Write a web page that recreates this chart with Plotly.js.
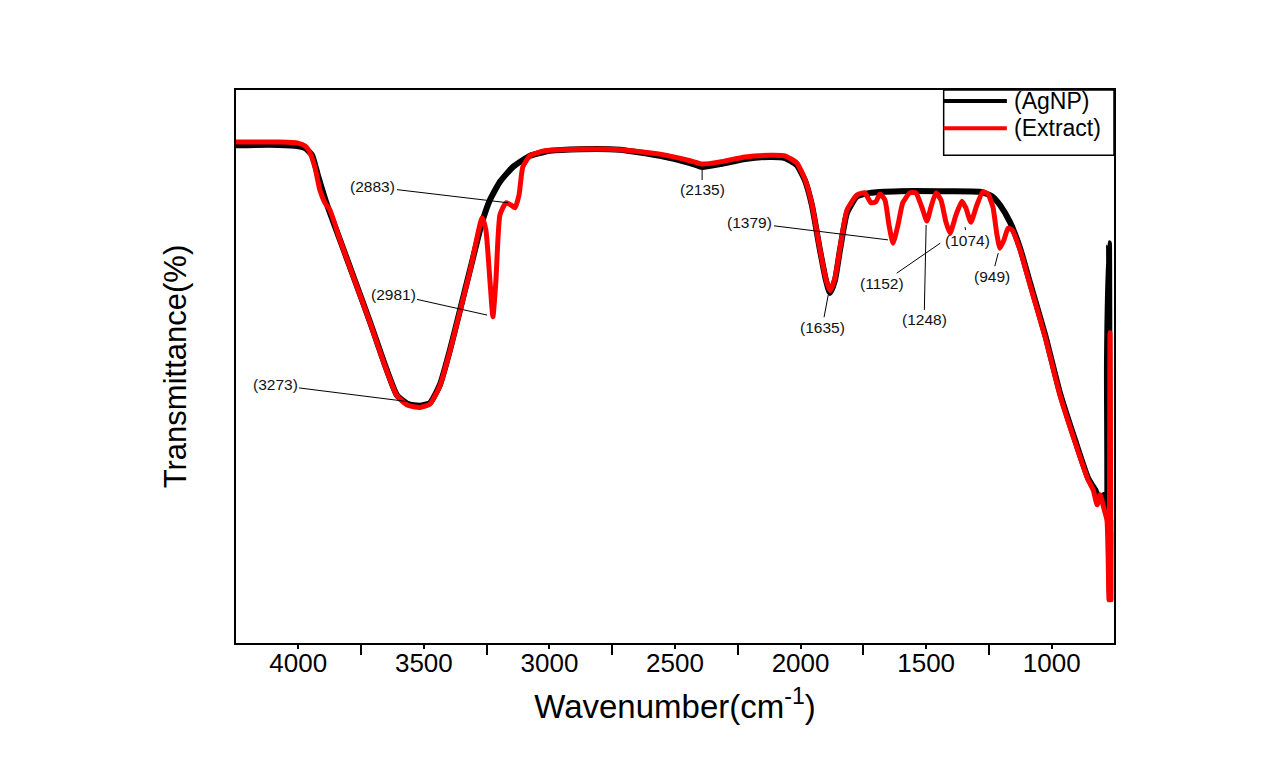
<!DOCTYPE html>
<html>
<head>
<meta charset="utf-8">
<script src="https://cdn.plot.ly/plotly-3.0.1.min.js"></script>
<style>html,body{margin:0;padding:0;background:#fff;}#chart{width:1283px;height:760px;}</style>
</head>
<body>
<div id="chart"></div>
<script>
// AgNP spectrum (wavenumber, transmittance in arbitrary % units)
const agnpX = [4248,4113,4013,3973,3945,3922,3898,3882,3834,3775,3714,3655,3607,3564,3516,3476,3436,3396,3356,3316,3268,3237,3197,3145,3077,2998,2878,2719,2560,2440,2392,2321,2221,2122,2062,2015,1983,1955,1923,1899,1883,1863,1843,1815,1776,1724,1604,1445,1286,1238,1206,1166,1126,1086,1026,967,907,855,827,807,791,780,780,772,769,767];
const agnpY = [90.0,90.1,89.9,89.5,88.2,84.6,81.0,78.8,72.9,65.6,58.0,50.3,44.8,43.2,42.9,43.4,46.7,53.0,60.2,67.5,76.1,80.1,83.4,86.1,88.1,89.0,89.3,89.2,88.1,86.8,86.1,86.6,87.5,87.9,87.7,86.4,83.7,79.2,71.1,65.6,63.3,65.6,71.1,77.8,80.7,81.4,81.7,81.7,81.6,80.8,79.2,76.1,71.4,65.1,55.7,45.2,36.7,29.8,27.7,25.9,26.8,23.1,50.6,72.3,9.0,20.0];

// Extract spectrum
const extX = [4248,4073,4001,3973,3953,3933,3914,3894,3874,3834,3775,3714,3655,3607,3564,3516,3476,3436,3396,3356,3316,3268,3253,3237,3225,3213,3197,3173,3153,3137,3121,3106,3077,3018,2878,2719,2560,2440,2392,2321,2221,2122,2062,2015,1983,1955,1923,1899,1883,1863,1843,1815,1776,1744,1720,1700,1684,1664,1648,1632,1612,1593,1565,1541,1517,1497,1481,1461,1441,1421,1405,1381,1358,1342,1322,1298,1274,1254,1234,1218,1206,1190,1174,1158,1126,1086,1026,967,907,855,835,819,807,791,780,772,768,764,764];
const extY = [90.6,90.6,90.4,89.9,88.6,85.9,81.9,79.6,78.3,72.9,65.5,57.9,50.1,44.7,43.0,42.6,43.2,46.5,52.8,60.0,67.3,76.9,74.7,65.6,59.0,65.6,77.4,79.6,79.2,78.7,81.0,86.1,88.1,89.0,89.3,89.2,88.4,87.2,86.6,87.0,87.9,88.2,88.1,86.8,83.9,79.4,71.2,65.8,63.7,66.0,71.4,78.3,81.0,81.4,79.6,79.8,81.2,80.1,75.6,72.3,75.6,79.6,81.4,81.4,78.8,76.3,78.8,81.4,80.1,76.1,74.1,77.4,79.9,78.7,76.1,79.2,81.6,81.2,78.8,73.8,71.4,72.9,75.0,74.7,71.1,64.7,55.3,44.8,36.3,29.5,27.7,25.0,26.8,24.1,22.2,7.8,56.1,7.8,22.2];

// Peak labels: text, tip wavenumber, tip transmittance, text offset (px)
const peakText = ["(2883)","(2981)","(3273)","(2135)","(1379)","(1635)","(1152)","(1248)","(1074)","(949)"];
const peakX = [3165,3248,3555,2392,1652,1890,1444,1500,1345,1213];
const peakY = [79.6,59.3,43.6,85.9,72.9,62.9,72.3,75.6,75.2,70.5];
const peakAX = [-135,-94,-135,0,-138,-6,-58,-2,2,-6];
const peakAY = [-16,-21,-17,22,-17,32,40,95,13,23];

const tickVals = [4000,3500,3000,2500,2000,1500,1000];
const tickText = ["4000","3500","3000","2500","2000","1500","1000"];
const minorVals = [3750,3250,2750,2250,1750,1250];
const seriesNames = ["(AgNP)","(Extract)"];
const seriesColors = ["#000000","#ff0000"];

const FONT = "Arial, 'Liberation Sans', sans-serif";

const traces = [
  {x: agnpX, y: agnpY, mode: 'lines', name: seriesNames[0], line: {color: seriesColors[0], width: 6, shape: 'spline', smoothing: 0.5}},
  {x: extX, y: extY, mode: 'lines', name: seriesNames[1], line: {color: seriesColors[1], width: 5, shape: 'spline', smoothing: 0.5}}
];

const annotations = peakText.map((t, i) => ({
  x: peakX[i], y: peakY[i], xref: 'x', yref: 'y', text: t,
  showarrow: true, arrowhead: 0, arrowwidth: 1, arrowcolor: '#000',
  ax: peakAX[i], ay: peakAY[i], font: {family: FONT, size: 15.5, color: '#111'}
}));

// custom legend
const legX0 = 0.806, legY0 = 0.882;
const legRowY = [0.980, 0.931];
seriesNames.forEach((n, i) => {
  annotations.push({xref: 'paper', yref: 'paper', x: 0.884, y: legRowY[i], xanchor: 'left', yanchor: 'middle',
    text: n, showarrow: false, font: {family: FONT, size: 23, color: '#000'}});
});
const shapes = [
  {type: 'rect', xref: 'paper', yref: 'paper', x0: legX0, x1: 1, y0: legY0, y1: 1, line: {color: '#000', width: 1.5}},
  {type: 'line', xref: 'paper', yref: 'paper', x0: legX0, x1: 0.878, y0: legRowY[0], y1: legRowY[0], line: {color: seriesColors[0], width: 4}},
  {type: 'line', xref: 'paper', yref: 'paper', x0: legX0, x1: 0.878, y0: legRowY[1], y1: legRowY[1], line: {color: seriesColors[1], width: 4}}
];

const layout = {
  width: 1283, height: 760,
  margin: {l: 236, r: 169, t: 90, b: 117},
  paper_bgcolor: '#fff', plot_bgcolor: '#fff',
  showlegend: false,
  font: {family: FONT, color: '#000'},
  xaxis: {
    range: [4248, 752], tickmode: 'array', tickvals: tickVals, ticktext: tickText,
    ticks: 'outside', ticklen: 4, tickwidth: 2, tickcolor: '#000',
    minor: {tickmode: 'array', tickvals: minorVals, ticks: 'outside', ticklen: 10, tickwidth: 2, tickcolor: '#000'},
    ticklabelstandoff: -8,
    showgrid: false, zeroline: false, showline: true, linecolor: '#000', linewidth: 2, mirror: true,
    tickfont: {family: FONT, size: 26, color: '#000'},
    title: {text: 'Wavenumber(cm<sup>-1</sup>)', font: {family: FONT, size: 33, color: '#000'}, standoff: 18}
  },
  yaxis: {
    range: [0, 100], showticklabels: false, ticks: '', showgrid: false, zeroline: false,
    showline: true, linecolor: '#000', linewidth: 2, mirror: true,
    title: {text: 'Transmittance(%)', font: {family: FONT, size: 31, color: '#000'}, standoff: 38}
  },
  annotations: annotations,
  shapes: shapes
};

Plotly.newPlot('chart', traces, layout, {displayModeBar: false});
</script>
</body>
</html>
